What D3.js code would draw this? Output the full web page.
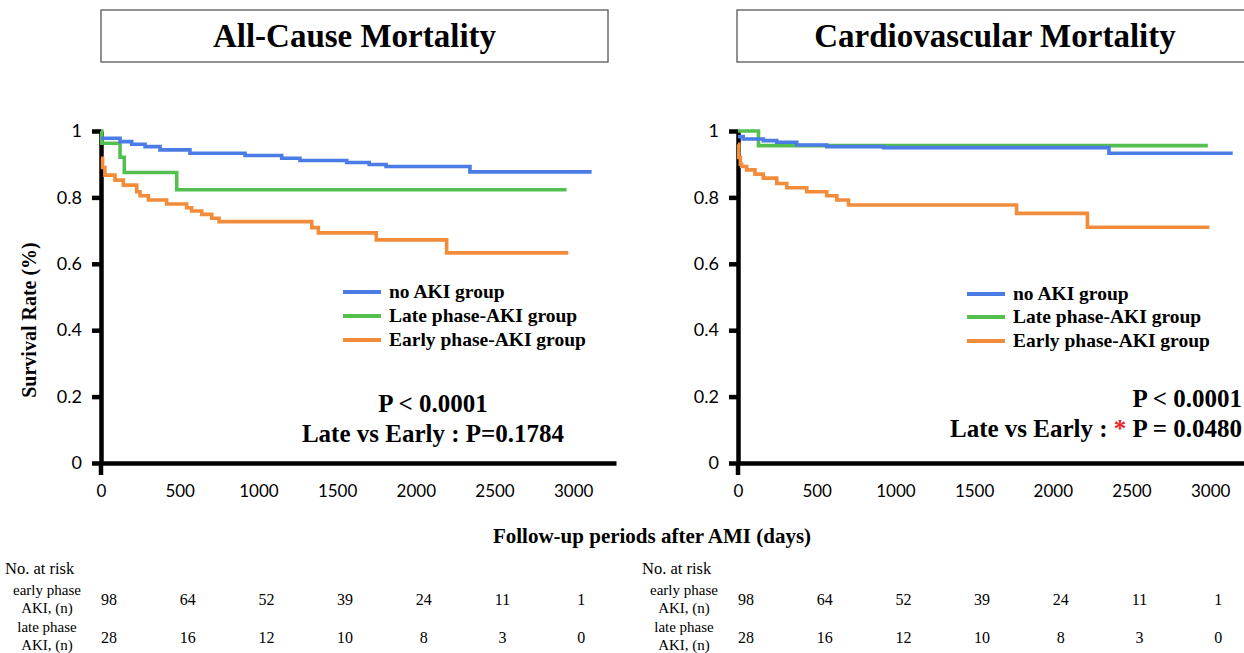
<!DOCTYPE html>
<html>
<head>
<meta charset="utf-8">
<script src="https://cdn.jsdelivr.net/npm/d3@7"></script>
<style>
  body { margin: 0; background: #fff; }
</style>
</head>
<body>
<script>
// ---- data ----
const timeTicks = [0, 500, 1000, 1500, 2000, 2500, 3000];
const rateTicks = [0, 0.2, 0.4, 0.6, 0.8, 1];
const groupNames = ['no AKI group', 'Late phase-AKI group', 'Early phase-AKI group'];
const groupColors = ['#4b7be5', '#53bf4f', '#f28c3b'];

// [days, survival]
const allNoAki = [[0, 0.978], [121, 0.968], [195, 0.960], [280, 0.953], [375, 0.943], [565, 0.933],
    [915, 0.926], [1148, 0.918], [1264, 0.911], [1561, 0.905], [1704, 0.899], [1811, 0.893],
    [2344, 0.877], [3117, 0.877]];
const allLate = [[0, 1], [5, 0.963], [121, 0.921], [148, 0.875], [481, 0.823], [2958, 0.823]];
const allEarly = [[0, 0.918], [10, 0.89], [25, 0.867], [89, 0.852], [142, 0.837], [227, 0.817],
    [248, 0.805], [301, 0.792], [417, 0.780], [544, 0.769], [576, 0.759], [640, 0.749],
    [703, 0.737], [750, 0.727], [1339, 0.709], [1381, 0.693], [1749, 0.672], [2196, 0.633],
    [2969, 0.633]];

const cvNoAki = [[0, 0.983], [33, 0.976], [161, 0.971], [246, 0.966], [373, 0.958], [564, 0.953],
    [925, 0.950], [2357, 0.933], [3143, 0.933]];
const cvLate = [[0, 1], [130, 0.956], [2985, 0.956]];
const cvEarly = [[0, 0.96], [5, 0.92], [15, 0.90], [23, 0.893], [55, 0.883], [108, 0.870],
    [161, 0.858], [246, 0.842], [310, 0.829], [437, 0.817], [564, 0.805], [628, 0.792],
    [702, 0.777], [1770, 0.752], [2220, 0.710], [2995, 0.710]];

const riskLabels = [['early phase', 'AKI, (n)'], ['late phase', 'AKI, (n)']];
const earlyAtRisk = [98, 64, 52, 39, 24, 11, 1];
const lateAtRisk = [28, 16, 12, 10, 8, 3, 0];

// ---- layout ----
const width = 1244;
const height = 653;
const serif = '"Times New Roman", "Liberation Serif", Tinos, "DejaVu Serif", serif';
const sans = 'Lato, "Noto Sans", sans-serif';
const plotTop = 131;
const plotBottom = 463;
const plotWidth = 515;
const xMax = 3272;

const svg = d3
    .select('body')
    .append('svg')
    .attr('width', width)
    .attr('height', height)
    .attr('viewBox', [0, 0, width, height]);

const y = d3.scaleLinear([0, 1], [plotBottom, plotTop]);

function drawPanel({ x0, title, boxX, boxW, series, legendX, legendY, pX, pAnchor, pBase, pLines }) {
    const x = d3.scaleLinear([0, xMax], [x0, x0 + plotWidth]);
    const g = svg.append('g');

    // TITLE BOX
    g.append('rect')
        .attr('x', boxX)
        .attr('y', 10)
        .attr('width', boxW)
        .attr('height', 52)
        .attr('fill', 'none')
        .attr('stroke', '#6e6e6e')
        .attr('stroke-width', 1.5);
    g.append('text')
        .attr('x', boxX + boxW / 2)
        .attr('y', 47)
        .attr('text-anchor', 'middle')
        .attr('font-family', serif)
        .attr('font-weight', 'bold')
        .attr('font-size', 33)
        .text(title);

    // Y AXIS
    g.append('g')
        .attr('transform', `translate(${x0},0)`)
        .call(d3.axisLeft(y).tickValues(rateTicks).tickFormat((d) => d).tickSize(9).tickSizeOuter(0).tickPadding(10))
        .call((a) => a.selectAll('.domain, .tick line').attr('stroke', '#000').attr('stroke-width', 4.5))
        .call((a) => a.selectAll('.tick text').attr('font-family', sans).attr('font-size', 18).attr('fill', '#000'));

    // X AXIS
    g.append('g')
        .attr('transform', `translate(0,${plotBottom})`)
        .call(
            d3.axisBottom(x).tickValues(timeTicks).tickFormat(d3.format('d')).tickSize(0).tickSizeOuter(0).tickPadding(22)
        )
        .call((a) => a.select('.domain').attr('stroke', '#000').attr('stroke-width', 4.5))
        .call((a) => a.selectAll('.tick text').attr('font-family', sans).attr('font-size', 17).attr('fill', '#000'));
    g.append('line')
        .attr('x1', x(0))
        .attr('x2', x(0))
        .attr('y1', plotBottom)
        .attr('y2', plotBottom + 12)
        .attr('stroke', '#000')
        .attr('stroke-width', 4.5);

    // CURVES (green, orange, then blue on top)
    const line = d3
        .line()
        .x((d) => x(d[0]))
        .y((d) => y(d[1]))
        .curve(d3.curveStepAfter);
    [1, 2, 0].forEach((k) => {
        g.append('path')
            .attr('d', line(series[k]))
            .attr('fill', 'none')
            .attr('stroke', groupColors[k])
            .attr('stroke-width', 3.6);
    });

    // LEGEND
    const leg = g.append('g').attr('font-family', serif).attr('font-weight', 'bold').attr('font-size', 19.5);
    groupNames.forEach((name, k) => {
        leg.append('line')
            .attr('x1', legendX)
            .attr('x2', legendX + 38)
            .attr('y1', legendY[k])
            .attr('y2', legendY[k])
            .attr('stroke', groupColors[k])
            .attr('stroke-width', 4);
        leg.append('text')
            .attr('x', legendX + 46)
            .attr('y', legendY[k] + 6)
            .text(name);
    });

    // P VALUES
    pLines.forEach((parts, i) => {
        const t = g
            .append('text')
            .attr('x', pX)
            .attr('y', pBase + i * 30)
            .attr('text-anchor', pAnchor)
            .attr('font-family', serif)
            .attr('font-weight', 'bold')
            .attr('font-size', 25);
        parts.forEach((p) => t.append('tspan').attr('fill', p.color || '#000').text(p.text));
    });

    // NUMBER AT RISK TABLE
    const tbl = g.append('g').attr('font-family', serif).attr('fill', '#000');
    tbl.append('text').attr('x', x0 - 96).attr('y', 574).attr('font-size', 16.5).text('No. at risk');
    riskLabels.forEach((lab, r) => {
        lab.forEach((s, j) => {
            tbl.append('text')
                .attr('x', x0 - 54)
                .attr('y', 595 + r * 37 + j * 18)
                .attr('text-anchor', 'middle')
                .attr('font-size', 15)
                .text(s);
        });
    });
    [earlyAtRisk, lateAtRisk].forEach((row, r) => {
        tbl.append('g')
            .selectAll('text')
            .data(row)
            .join('text')
            .attr('x', (d, i) => x(timeTicks[i]) + 8)
            .attr('y', 605 + r * 38)
            .attr('text-anchor', 'middle')
            .attr('font-size', 16)
            .text((d) => d);
    });
}

drawPanel({
    x0: 101,
    title: 'All-Cause Mortality',
    boxX: 101,
    boxW: 507,
    series: [allNoAki, allLate, allEarly],
    legendX: 343,
    legendY: [292, 316, 340],
    pX: 433,
    pAnchor: 'middle',
    pBase: 412,
    pLines: [[{ text: 'P < 0.0001' }], [{ text: 'Late vs Early : P=0.1784' }]],
});

drawPanel({
    x0: 738,
    title: 'Cardiovascular Mortality',
    boxX: 737,
    boxW: 516,
    series: [cvNoAki, cvLate, cvEarly],
    legendX: 967,
    legendY: [294, 317, 341],
    pX: 1242,
    pAnchor: 'end',
    pBase: 407,
    pLines: [
        [{ text: 'P < 0.0001' }],
        [{ text: 'Late vs Early : ' }, { text: '*', color: '#e8262a' }, { text: ' P = 0.0480' }],
    ],
});

// SHARED LABELS
svg.append('text')
    .attr('transform', 'translate(36,320) rotate(-90)')
    .attr('text-anchor', 'middle')
    .attr('font-family', serif)
    .attr('font-weight', 'bold')
    .attr('font-size', 20)
    .text('Survival Rate (%)');

svg.append('text')
    .attr('x', 652)
    .attr('y', 543)
    .attr('text-anchor', 'middle')
    .attr('font-family', serif)
    .attr('font-weight', 'bold')
    .attr('font-size', 21)
    .text('Follow-up periods after AMI (days)');
</script>
</body>
</html>
